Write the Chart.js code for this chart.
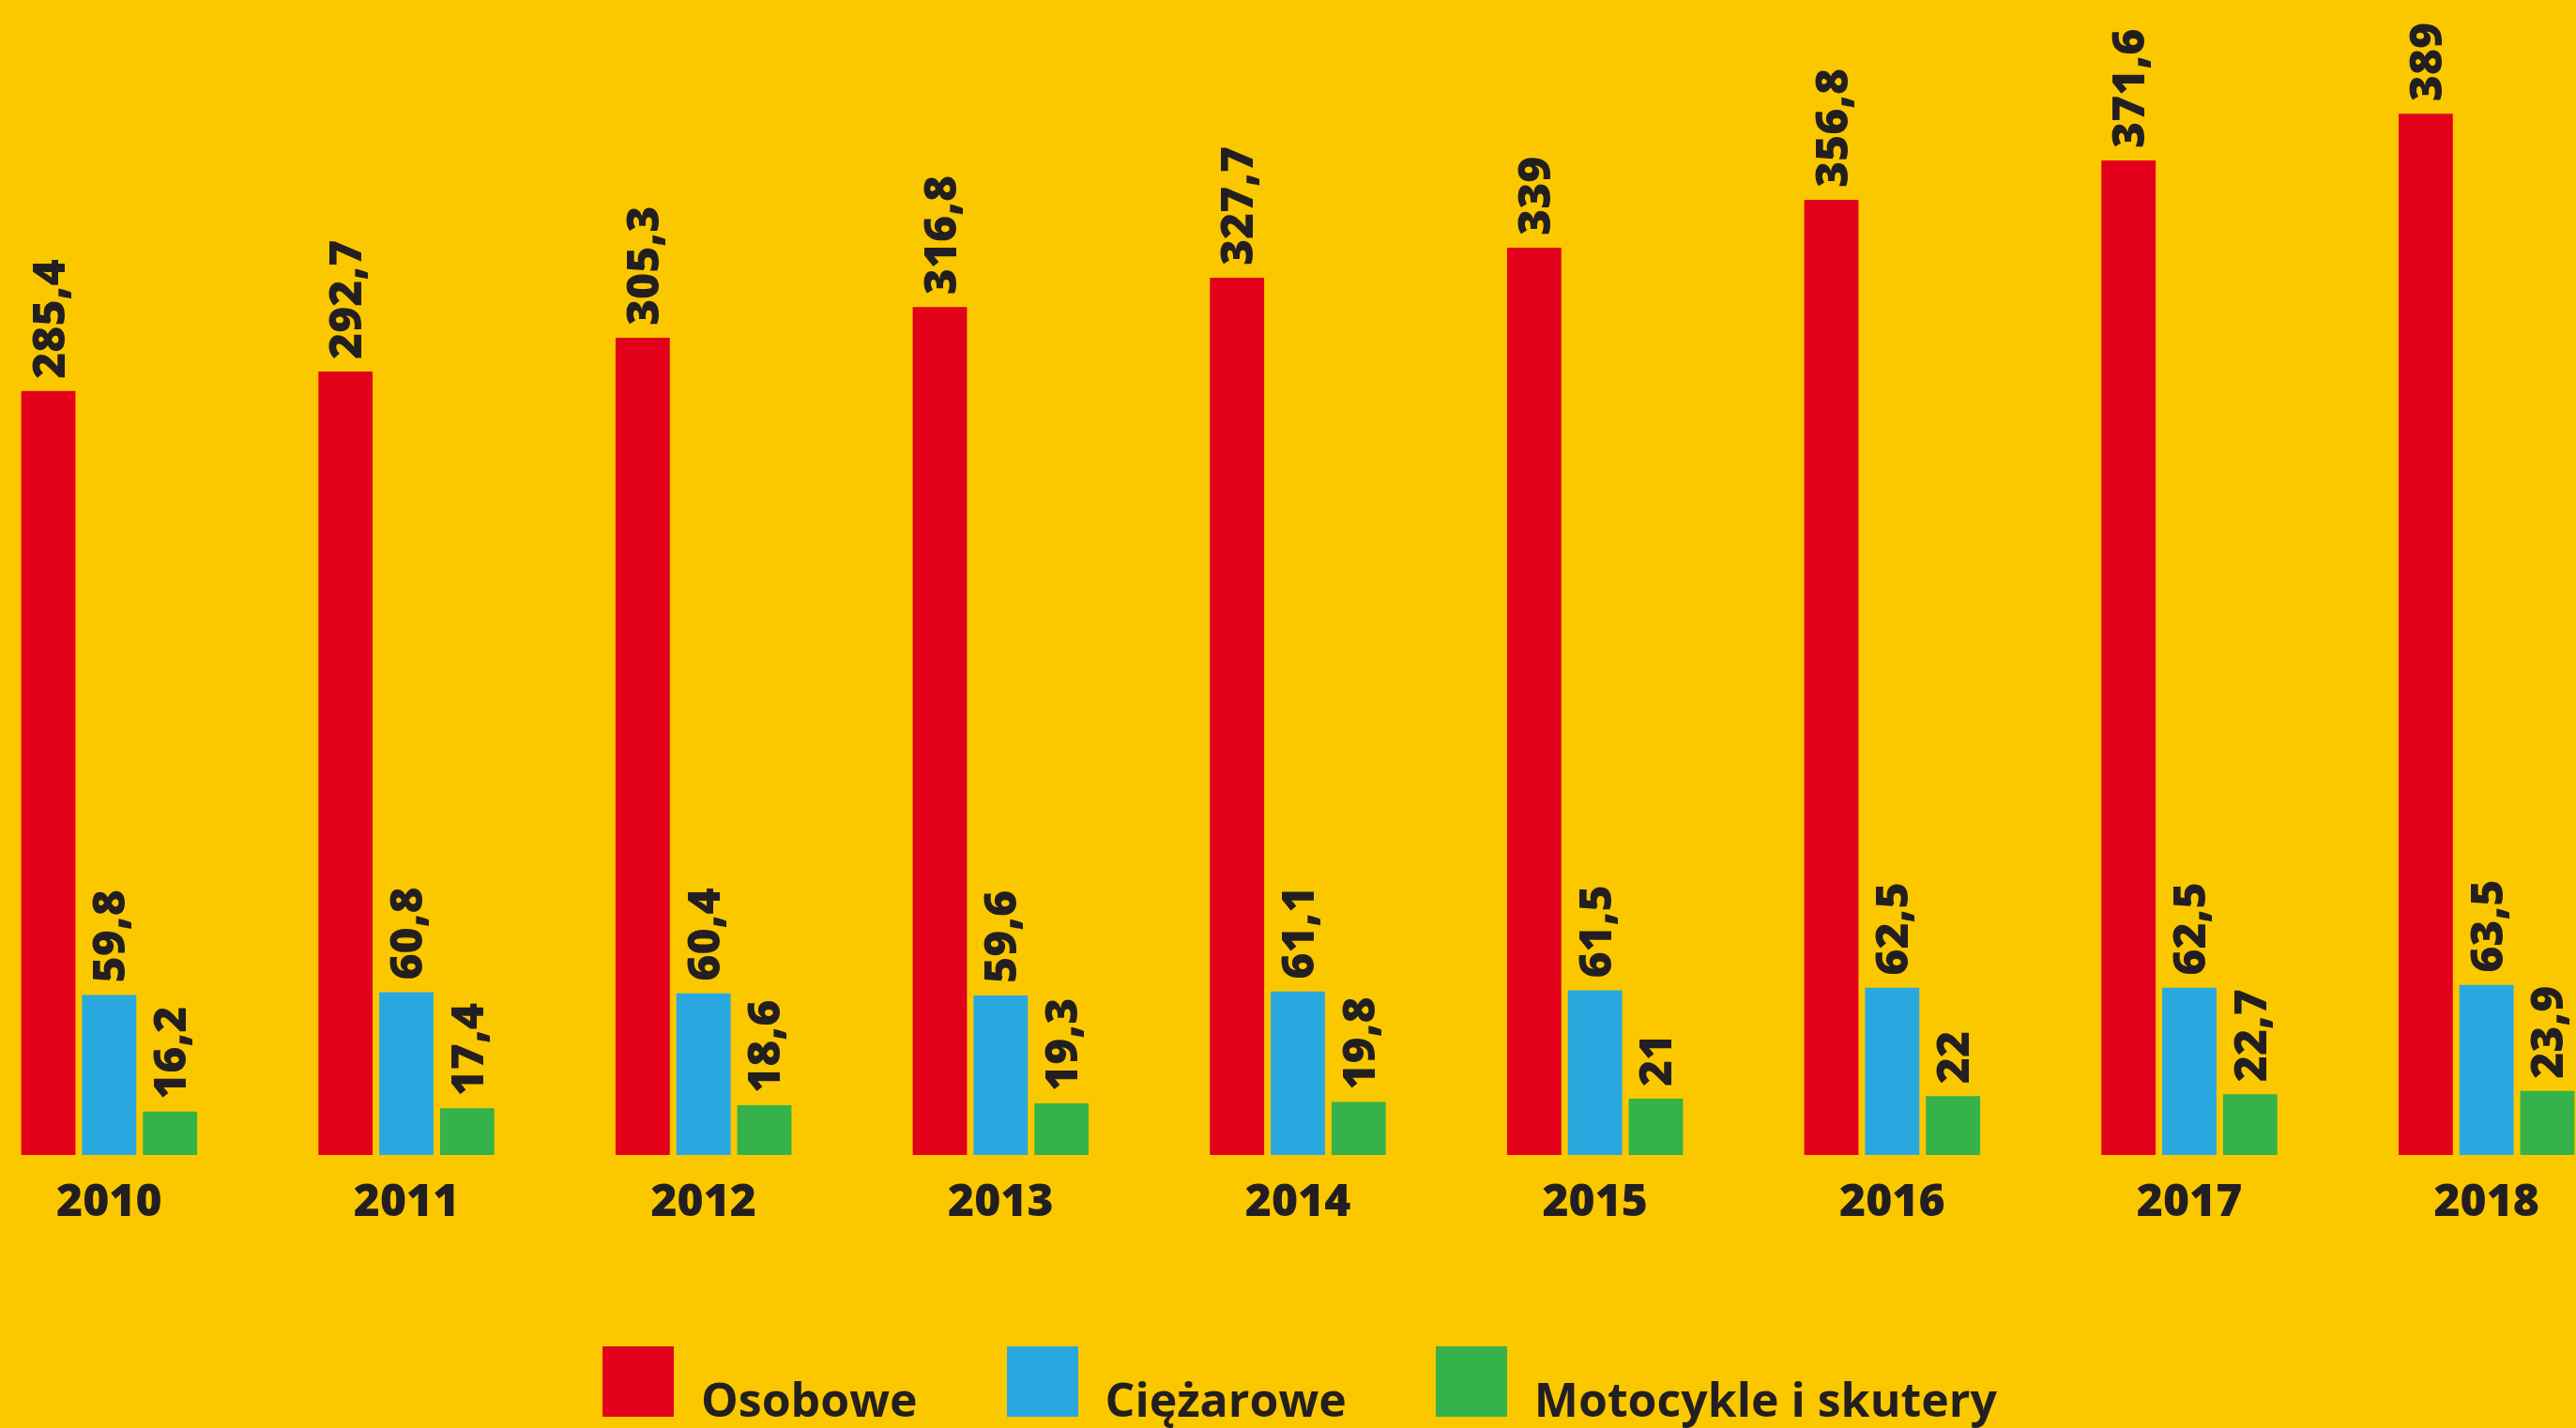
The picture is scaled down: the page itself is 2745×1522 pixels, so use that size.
<!DOCTYPE html>
<html>
<head>
<meta charset="utf-8">
<script src="https://cdn.jsdelivr.net/npm/chart.js@4/dist/chart.umd.min.js"></script>
<style>
html, body { margin: 0; padding: 0; width: 2745px; height: 1522px; overflow: hidden; background: #fbc800; font-family: "Open Sans", sans-serif; }
#chart { position: absolute; left: -42px; top: 0; }
#legend { position: absolute; left: 642px; top: 1435px; display: flex; align-items: flex-end; }
.item { display: flex; align-items: flex-end; margin-right: 95px; }
.box { width: 76px; height: 75px; margin-right: 29px; }
.lbl { font-weight: 700; font-size: 50px; line-height: 1; color: #231f20; margin-bottom: -6px; white-space: nowrap; }
</style>
</head>
<body>
<canvas id="chart" width="2850" height="1331"></canvas>
<div id="legend"></div>
<script>
const years = ["2010", "2011", "2012", "2013", "2014", "2015", "2016", "2017", "2018"];
const osobowe = [285.4, 292.7, 305.3, 316.8, 327.7, 339, 356.8, 371.6, 389];
const ciezarowe = [59.8, 60.8, 60.4, 59.6, 61.1, 61.5, 62.5, 62.5, 63.5];
const motocykle = [16.2, 17.4, 18.6, 19.3, 19.8, 21, 22, 22.7, 23.9];
const seriesNames = ["Osobowe", "Ciężarowe", "Motocykle i skutery"];
const seriesColors = ["#e2001a", "#29a8e0", "#35b24a"];

const textColor = "#231f20";

// value labels, rotated, above each bar
const valueLabels = {
    id: "valueLabels",
    afterDatasetsDraw(chart) {
        const ctx = chart.ctx;
        ctx.save();
        ctx.font = "800 48px 'Open Sans'";
        ctx.fillStyle = textColor;
        ctx.textAlign = "left";
        ctx.textBaseline = "alphabetic";
        chart.data.datasets.forEach((ds, i) => {
            chart.getDatasetMeta(i).data.forEach((bar, j) => {
                const txt = String(ds.data[j]).replace(".", ",");
                ctx.save();
                ctx.translate(bar.x + 17, bar.y - 13);
                ctx.rotate(-Math.PI / 2);
                ctx.fillText(txt, 0, 0);
                ctx.restore();
            });
        });
        ctx.restore();
    },
};

const allSeries = [osobowe, ciezarowe, motocykle];
const datasets = allSeries.map((data, i) => ({
    label: seriesNames[i],
    data,
    backgroundColor: seriesColors[i],
    borderWidth: 0,
    categoryPercentage: 0.614,
    barPercentage: 0.892,
}));

const chart = new Chart(document.getElementById("chart"), {
    type: "bar",
    data: { labels: years, datasets },
    options: {
        responsive: false,
        animation: false,
        devicePixelRatio: 1,
        layout: { padding: 0 },
        plugins: {
            legend: { display: false },
            tooltip: { enabled: false },
        },
        scales: {
            x: {
                grid: { display: false, drawTicks: false },
                border: { display: false },
                ticks: {
                    color: textColor,
                    padding: 23,
                    font: { family: "Open Sans", size: 48, weight: "800" },
                },
                afterFit: (scale) => {
                    scale.height = 100;
                },
            },
            y: {
                display: false,
                min: 0,
                max: 431.5,
            },
        },
    },
    plugins: [valueLabels],
});

// legend
const legend = document.getElementById("legend");
seriesNames.forEach((name, i) => {
    const item = document.createElement("div");
    item.className = "item";
    const box = document.createElement("div");
    box.className = "box";
    box.style.background = seriesColors[i];
    const lbl = document.createElement("span");
    lbl.className = "lbl";
    lbl.textContent = name;
    item.appendChild(box);
    item.appendChild(lbl);
    legend.appendChild(item);
});
</script>
</body>
</html>
